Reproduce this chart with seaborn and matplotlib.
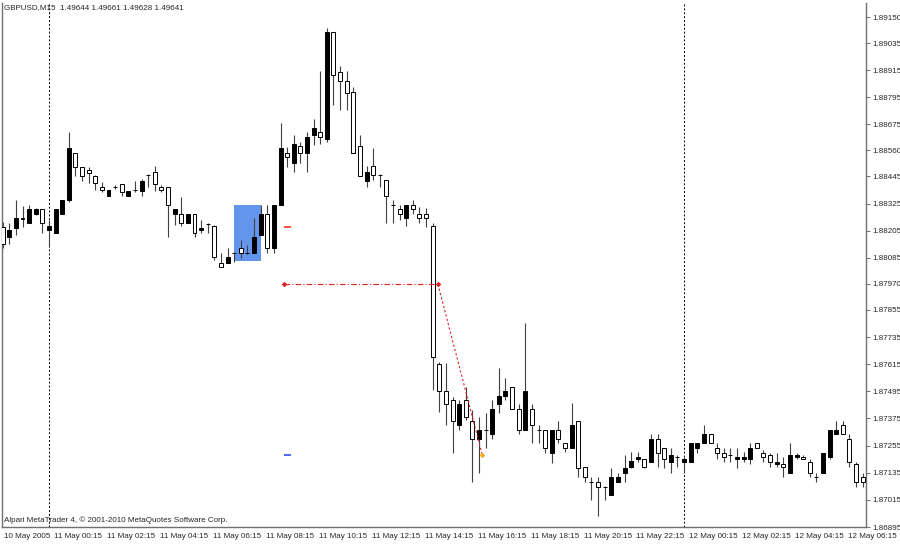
import matplotlib
matplotlib.use("Agg")
import matplotlib.pyplot as plt
import matplotlib.transforms as mtransforms
from matplotlib.patches import Rectangle
import numpy as np
import pandas as pd
import seaborn as sns

# GBPUSD M15 bars, 10 May 22:15 -> 12 May 06:45
opens = [
    1.88221, 1.88177, 1.88217, 1.88261, 1.88239, 1.88279, 1.88301, 1.88208, 1.88195, 1.88279,
    1.88341, 1.88549, 1.88487, 1.88474, 1.88447, 1.88398, 1.88359, 1.88398, 1.88412, 1.88359,
    1.88385, 1.88381, 1.88451, 1.88465, 1.88398, 1.88398, 1.88279, 1.88279, 1.88239, 1.88279,
    1.88208, 1.88235, 1.88226, 1.88062, 1.88062, 1.88106, 1.88129, 1.88106, 1.88106, 1.88186,
    1.88279, 1.88129, 1.88319, 1.88549, 1.88504, 1.88580, 1.88549, 1.88628, 1.88642, 1.88611,
    1.89084, 1.88907, 1.88867, 1.88818, 1.88580, 1.88425, 1.88491, 1.88451, 1.88429, 1.88319,
    1.88301, 1.88261, 1.88319, 1.88279, 1.88279, 1.88226, 1.87616, 1.87496, 1.87456, 1.87346,
    1.87456, 1.87364, 1.87284, 1.87324, 1.87306, 1.87439, 1.87474, 1.87514, 1.87417, 1.87324,
    1.87417, 1.87324, 1.87324, 1.87222, 1.87324, 1.87266, 1.87244, 1.87364, 1.87160, 1.87094,
    1.87094, 1.87072, 1.87036, 1.87094, 1.87134, 1.87160, 1.87196, 1.87196, 1.87182, 1.87284,
    1.87244, 1.87182, 1.87204, 1.87182, 1.87182, 1.87244, 1.87266, 1.87306, 1.87244, 1.87222,
    1.87213, 1.87196, 1.87196, 1.87196, 1.87266, 1.87222, 1.87213, 1.87173, 1.87173, 1.87134,
    1.87204, 1.87204, 1.87182, 1.87116, 1.87134, 1.87204, 1.87306, 1.87346, 1.87284, 1.87173,
    1.87116,
]
highs = [
    1.88244, 1.88239, 1.88341, 1.88314, 1.88319, 1.88305, 1.88301, 1.88252, 1.88301, 1.88341,
    1.88642, 1.88549, 1.88487, 1.88487, 1.88451, 1.88420, 1.88385, 1.88407, 1.88412, 1.88381,
    1.88425, 1.88434, 1.88455, 1.88491, 1.88407, 1.88398, 1.88301, 1.88354, 1.88279, 1.88279,
    1.88252, 1.88239, 1.88230, 1.88106, 1.88129, 1.88110, 1.88164, 1.88142, 1.88261, 1.88319,
    1.88319, 1.88319, 1.88681, 1.88575, 1.88628, 1.88597, 1.88642, 1.88699, 1.88911, 1.89101,
    1.89084, 1.88933, 1.88911, 1.88840, 1.88628, 1.88491, 1.88571, 1.88455, 1.88429, 1.88341,
    1.88319, 1.88319, 1.88341, 1.88310, 1.88305, 1.88239, 1.87624, 1.87620, 1.87470, 1.87456,
    1.87514, 1.87412, 1.87381, 1.87399, 1.87456, 1.87598, 1.87554, 1.87514, 1.87439, 1.87797,
    1.87439, 1.87346, 1.87324, 1.87324, 1.87364, 1.87266, 1.87443, 1.87364, 1.87160, 1.87116,
    1.87116, 1.87076, 1.87156, 1.87134, 1.87213, 1.87227, 1.87227, 1.87196, 1.87306, 1.87306,
    1.87244, 1.87244, 1.87213, 1.87204, 1.87266, 1.87266, 1.87346, 1.87306, 1.87266, 1.87244,
    1.87244, 1.87244, 1.87227, 1.87266, 1.87266, 1.87235, 1.87222, 1.87222, 1.87204, 1.87266,
    1.87222, 1.87213, 1.87196, 1.87134, 1.87222, 1.87324, 1.87364, 1.87364, 1.87306, 1.87182,
    1.87134,
]
lows = [
    1.88129, 1.88146, 1.88186, 1.88221, 1.88239, 1.88275, 1.88195, 1.88133, 1.88195, 1.88279,
    1.88332, 1.88447, 1.88425, 1.88416, 1.88385, 1.88376, 1.88359, 1.88390, 1.88359, 1.88359,
    1.88376, 1.88359, 1.88398, 1.88381, 1.88376, 1.88177, 1.88230, 1.88226, 1.88239, 1.88177,
    1.88195, 1.88195, 1.88076, 1.88045, 1.88062, 1.88067, 1.88084, 1.88102, 1.88106, 1.88186,
    1.88106, 1.88106, 1.88319, 1.88487, 1.88465, 1.88504, 1.88465, 1.88584, 1.88588, 1.88597,
    1.88761, 1.88739, 1.88739, 1.88549, 1.88447, 1.88398, 1.88429, 1.88398, 1.88239, 1.88239,
    1.88252, 1.88226, 1.88279, 1.88239, 1.88221, 1.87501, 1.87403, 1.87346, 1.87222, 1.87324,
    1.87368, 1.87094, 1.87134, 1.87244, 1.87284, 1.87399, 1.87456, 1.87417, 1.87306, 1.87324,
    1.87266, 1.87266, 1.87222, 1.87178, 1.87266, 1.87227, 1.87244, 1.87116, 1.87094, 1.87014,
    1.86943, 1.87014, 1.87036, 1.87094, 1.87094, 1.87156, 1.87182, 1.87156, 1.87182, 1.87160,
    1.87156, 1.87134, 1.87160, 1.87134, 1.87182, 1.87222, 1.87266, 1.87266, 1.87196, 1.87182,
    1.87182, 1.87156, 1.87182, 1.87173, 1.87244, 1.87182, 1.87160, 1.87160, 1.87116, 1.87134,
    1.87196, 1.87196, 1.87116, 1.87094, 1.87134, 1.87196, 1.87306, 1.87306, 1.87160, 1.87072,
    1.87072,
]
closes = [
    1.88146, 1.88208, 1.88261, 1.88257, 1.88301, 1.88301, 1.88239, 1.88226, 1.88301, 1.88341,
    1.88571, 1.88487, 1.88447, 1.88460, 1.88416, 1.88385, 1.88385, 1.88398, 1.88376, 1.88381,
    1.88385, 1.88425, 1.88451, 1.88412, 1.88385, 1.88319, 1.88301, 1.88239, 1.88279, 1.88195,
    1.88217, 1.88235, 1.88089, 1.88045, 1.88089, 1.88106, 1.88106, 1.88106, 1.88177, 1.88279,
    1.88129, 1.88319, 1.88571, 1.88531, 1.88588, 1.88549, 1.88619, 1.88659, 1.88619, 1.89084,
    1.88894, 1.88867, 1.88814, 1.88549, 1.88447, 1.88465, 1.88451, 1.88451, 1.88359, 1.88319,
    1.88279, 1.88319, 1.88301, 1.88261, 1.88261, 1.87646, 1.87496, 1.87439, 1.87364, 1.87439,
    1.87381, 1.87284, 1.87324, 1.87324, 1.87417, 1.87474, 1.87496, 1.87417, 1.87324, 1.87496,
    1.87346, 1.87324, 1.87244, 1.87324, 1.87284, 1.87244, 1.87346, 1.87156, 1.87116, 1.87094,
    1.87072, 1.87072, 1.87116, 1.87116, 1.87156, 1.87187, 1.87204, 1.87160, 1.87284, 1.87222,
    1.87196, 1.87213, 1.87204, 1.87196, 1.87266, 1.87266, 1.87306, 1.87266, 1.87222, 1.87204,
    1.87213, 1.87204, 1.87204, 1.87244, 1.87244, 1.87204, 1.87182, 1.87182, 1.87160, 1.87213,
    1.87213, 1.87196, 1.87134, 1.87116, 1.87222, 1.87324, 1.87324, 1.87306, 1.87182, 1.87094,
    1.87094,
]

time_labels = [
    "10 May 2005", "11 May 00:15", "11 May 02:15", "11 May 04:15", "11 May 06:15",
    "11 May 08:15", "11 May 10:15", "11 May 12:15", "11 May 14:15", "11 May 16:15",
    "11 May 18:15", "11 May 20:15", "11 May 22:15", "12 May 00:15", "12 May 02:15",
    "12 May 04:15", "12 May 06:15",
]
price_labels = [
    "1.89150", "1.89035", "1.88915", "1.88795", "1.88675", "1.88560", "1.88445",
    "1.88325", "1.88205", "1.88085", "1.87970", "1.87855", "1.87735", "1.87615",
    "1.87495", "1.87375", "1.87255", "1.87135", "1.87015", "1.86895",
]

day_breaks = [7, 103]           # bars at 00:00
box_bars = [35, 39]             # highlighted rectangle
box_prices = [1.88070, 1.88319]
order_bar = 43
stop_loss = 1.88221
take_profit = 1.87213
pending_price = 1.87968
fill_bar = 65.8
exit_bar = 72.5
exit_price = 1.87213

header = "GBPUSD,M15  1.49644 1.49661 1.49628 1.49641"
footer = "Alpari MetaTrader 4, \u00a9 2001-2010 MetaQuotes Software Corp."

sns.set_style("white")
plt.rcParams["font.family"] = ["Liberation Sans", "DejaVu Sans"]
fs = 5.8

df = pd.DataFrame({"open": opens, "high": highs, "low": lows, "close": closes})
df["bar"] = np.arange(len(df))
df["up"] = df["close"] > df["open"]
df["bottom"] = df[["open", "close"]].min(axis=1)
df["height"] = (df["close"] - df["open"]).abs()

fig = plt.figure(figsize=(9, 5.44), dpi=100)
ax = fig.add_axes([2 / 900, 17 / 544, 864 / 900, 524 / 544])

# highlight box behind candles
ax.add_patch(Rectangle((box_bars[0], box_prices[0]), box_bars[1] - box_bars[0],
                       box_prices[1] - box_prices[0], color="#6495ed", zorder=1, lw=0))

# candles
ax.vlines(df["bar"], df["low"], df["high"], color="#404040", lw=0.8, zorder=2)
ax.bar(df["bar"], df["height"], bottom=df["bottom"], width=0.6,
       color=np.where(df["up"], "black", "white"), edgecolor="black", lw=0.7, zorder=3)

# day separators
for b in day_breaks:
    ax.axvline(b, color="black", ls=(0, (2, 2)), lw=0.7, zorder=0)

# order levels and trade
ax.plot([order_bar - 0.5, order_bar + 0.6], [stop_loss, stop_loss], color="#ff2020",
        lw=1.1, zorder=4, solid_capstyle="butt")
ax.plot([order_bar - 0.5, order_bar + 0.6], [take_profit, take_profit], color="#2040ff",
        lw=1.1, zorder=4, solid_capstyle="butt")
ax.plot([order_bar - 0.5, fill_bar], [pending_price, pending_price], color="#e82020",
        ls=(0, (5, 2, 1, 2)), lw=0.8, zorder=4)
ax.plot([fill_bar, exit_bar], [pending_price, exit_price], color="#e82020",
        ls=(0, (2, 2)), lw=0.8, zorder=4)
sns.scatterplot(x=[order_bar - 0.5, fill_bar], y=[pending_price, pending_price], ax=ax,
                color="#e02020", marker="D", s=8, linewidth=0, zorder=5)
sns.scatterplot(x=[exit_bar], y=[exit_price], ax=ax, color="#f0b020", marker="D",
                s=8, linewidth=0, zorder=5)

ax.set_xlim(-0.1, 130.5)
ax.set_ylim(1.86895, 1.89212)

# axes look
for side in ["left", "right", "bottom"]:
    ax.spines[side].set_color("#707070")
    ax.spines[side].set_linewidth(1)
ax.spines["top"].set_visible(False)

ax.yaxis.tick_right()
ax.set_yticks([float(p) for p in price_labels])
ax.set_yticklabels(price_labels, fontsize=fs)
ax.tick_params(axis="y", length=3, width=0.7, color="#707070", pad=1.5, direction="out")

tick_pos = [-0.1] + [8 + 8 * j - 0.5 for j in range(len(time_labels) - 1)]
ax.set_xticks(tick_pos)
ax.set_xticklabels(time_labels, fontsize=fs)
ax.tick_params(axis="x", length=3, width=0.7, color="#707070", pad=1, direction="out")
offset = mtransforms.ScaledTranslation(2 / 100, 0, fig.dpi_scale_trans)
for lbl in ax.get_xticklabels():
    lbl.set_horizontalalignment("left")
    lbl.set_transform(lbl.get_transform() + offset)

fig.text(4 / 900, 1 - 8 / 544, header, fontsize=fs, va="center", ha="left")
fig.text(4 / 900, 1 - 520 / 544, footer, fontsize=fs, va="center", ha="left")

plt.savefig("out.png", dpi=100)
